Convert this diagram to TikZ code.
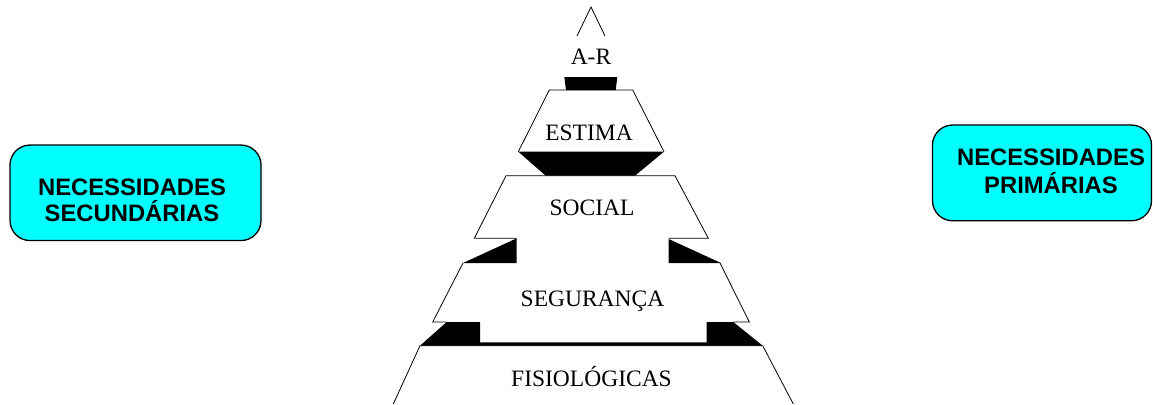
\documentclass[tikz,border=0pt]{standalone}
\usepackage{fontspec}
\setmainfont{Liberation Serif}
\newfontfamily\boxfont{Liberation Sans}
\definecolor{aqua}{RGB}{0,255,255}
\begin{document}
\begin{tikzpicture}[x=1pt,y=-1pt, line width=0.8pt,
 lvl/.style={font=\fontsize{23.5}{28}\selectfont, anchor=base, inner sep=0pt},
 btxt/.style={font=\boxfont\bfseries\fontsize{23.8}{28}\selectfont, anchor=base, inner sep=0pt},
 nbox/.style={draw=black, line width=1.3pt, fill=aqua, rounded corners=20pt, inner sep=0pt},
 blk/.style={fill=black, draw=none}]
\useasboundingbox (0,0) rectangle (1153,404);
% boxes
\node[nbox, minimum width=251pt, minimum height=95.5pt] (secbox) at (135.5,192.8) {};
\node[nbox, minimum width=219pt, minimum height=95.7pt] (pribox) at (1042,172.9) {};
\node[btxt] (sec1) at (132,195) {NECESSIDADES};
\node[btxt] (sec2) at (132,221.7) {SECUNDÁRIAS};
\node[btxt] (pri1) at (1051,165) {NECESSIDADES};
\node[btxt] (pri2) at (1051,193.3) {PRIMÁRIAS};
% pyramid
\draw (577,36) -- (591,7) -- (605,36);
\fill[blk] (564.3,77) -- (617.3,77) -- (615.7,90) -- (566,90) -- cycle;
\draw (518.3,151.7) -- (549.3,90) -- (632.7,90) -- (664,151.7);
\fill[blk] (518.3,151.7) -- (664,151.7) -- (635,175.7) -- (545.7,175.7) -- cycle;
\draw (516.7,238.3) -- (474.3,238.3) -- (506,175.7) -- (675,175.7) -- (708.3,238.3) -- (668.7,238.3);
\fill[blk] (516.7,238.3) -- (516.7,263) -- (463,263) -- cycle;
\fill[blk] (668.7,239) -- (721,263) -- (668.7,263) -- cycle;
\draw (463,263) -- (432.7,322) -- (446.7,322);
\draw (720,263) -- (749.3,322) -- (733.3,322);
\fill[blk] (420,345.7) -- (446.7,322) -- (480,322) -- (480,342.3) -- (706.7,342.3) -- (706.7,322) -- (733.3,322) -- (762.7,345.7) -- cycle;
\draw (393.3,404) -- (420,345.7) -- (762.7,345.7) -- (793.3,404);
% labels
\node[lvl] (ar) at (591,64) {A-R};
\node[lvl] (estima) at (589,140) {ESTIMA};
\node[lvl] (social) at (592,215) {SOCIAL};
\node[lvl] (seg) at (592.5,306) {SEGURANÇA};
\node[lvl] (fis) at (591.5,386.7) {FISIOLÓGICAS};
\end{tikzpicture}
\end{document}
